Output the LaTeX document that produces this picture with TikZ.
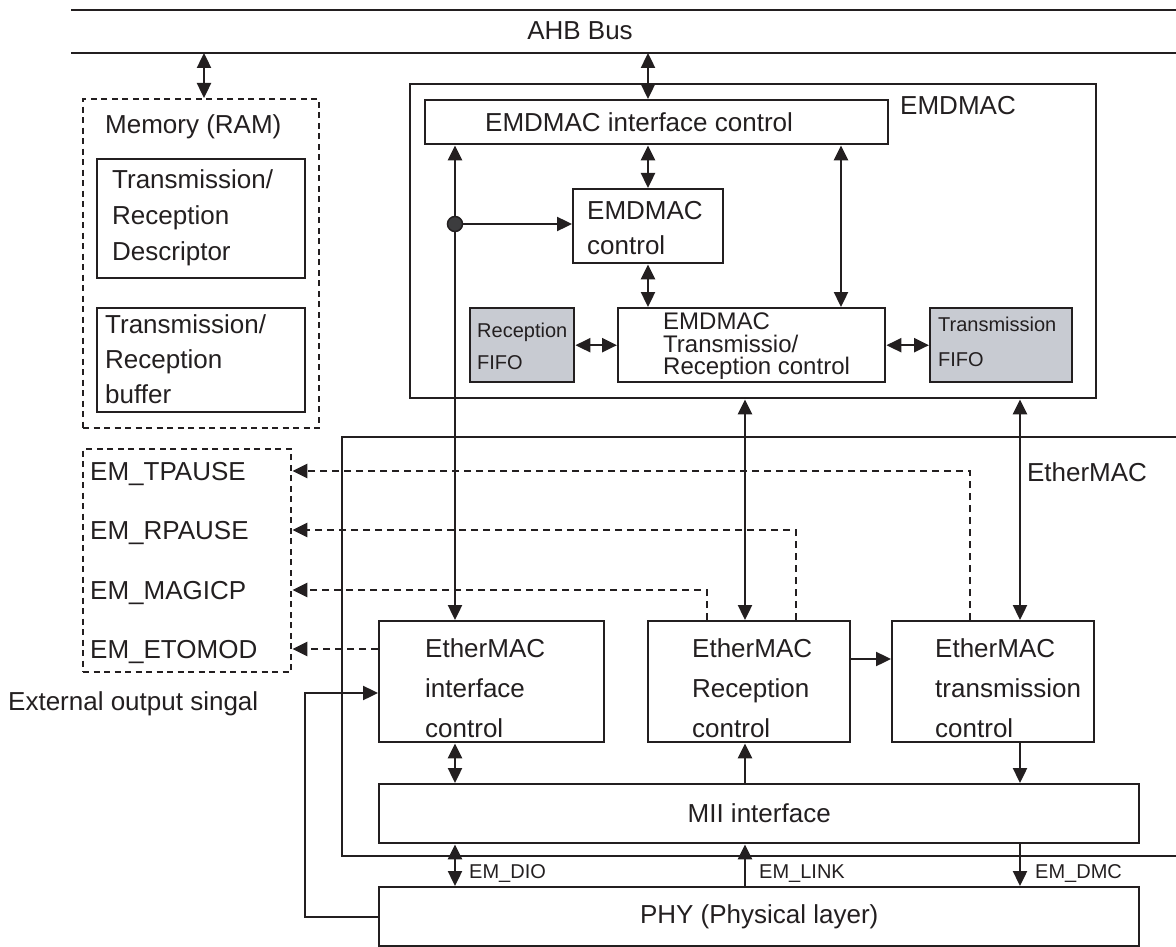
\documentclass[tikz,border=0pt]{standalone}
\usepackage{fontspec}
\setmainfont{Liberation Sans}
\usetikzlibrary{arrows.meta,calc}
\definecolor{ink}{RGB}{35,31,32}
\definecolor{fifogray}{RGB}{200,203,210}
\definecolor{dotgray}{RGB}{60,60,62}
\newcommand\fsBig[1]{\fontsize{26}{#1}\selectfont}
\newcommand\fsMid[1]{\fontsize{24}{#1}\selectfont}
\newcommand\fsSmall[1]{\fontsize{20}{#1}\selectfont}
\begin{document}
\begin{tikzpicture}[x=1pt,y=-1pt,
  every node/.style={text=ink},
  wire/.style={draw=ink, line width=2.4pt},
  dwire/.style={wire, dash pattern=on 7pt off 5pt},
  arr/.style={wire, -{Triangle[length=15pt,width=14pt]}},
  darr/.style={wire, {Triangle[length=15pt,width=14pt]}-{Triangle[length=15pt,width=14pt]}},
  box/.style={draw=ink, line width=2.4pt, rectangle, inner sep=0pt, anchor=north west},
  dbox/.style={box, dash pattern=on 6pt off 4.5pt},
  inlab/.style={anchor=west, align=left, inner sep=0pt, text=ink},
  plain/.style={inner sep=0pt, font={\fsBig{31}}},
  sigtxt/.style={anchor=west, inner sep=0pt, font={\fsBig{31}}, text height=18.6pt, text depth=0pt},
  smalllab/.style={anchor=west, inner sep=0pt, font={\fsSmall{24}}, text height=14.3pt, text depth=0pt}]
\useasboundingbox (0,0) rectangle (1176,947);

% column / row helpers
\coordinate (xA) at (455,0);
\coordinate (xB) at (648,0);
\coordinate (xC) at (745,0);
\coordinate (xD) at (841,0);
\coordinate (xE) at (1020,0);
\coordinate (xM) at (204,0);
\coordinate (dA) at (707,0);
\coordinate (dB) at (796,0);
\coordinate (dC) at (970,0);
\coordinate (xL) at (305,0);
\coordinate (yR) at (0,659);
\coordinate (yL) at (0,693);
\coordinate (jn) at (455,224);

% AHB bus
\coordinate (ahbTL) at (71,10);
\coordinate (ahbTR) at (1176,10);
\coordinate (ahbBL) at (71,53);
\coordinate (ahbBR) at (1176,53);
\draw[wire] (ahbTL) -- (ahbTR);
\draw[wire] (ahbBL) -- (ahbBR);
\node[plain] (ahb) at (580,31) {AHB Bus};

% Memory
\node[dbox, minimum width=236, minimum height=329] (mem) at (82,98) {};
\node[plain, anchor=west] (memlbl) at (105,127) {Memory (RAM)};
\node[box, minimum width=208, minimum height=119,
  label={[inlab, xshift=16pt, yshift=1pt, font={\fsBig{36}}]west:Transmission/\\Reception\\Descriptor}] (desc) at (96,158) {};
\node[box, minimum width=208, minimum height=104,
  label={[inlab, xshift=9pt, yshift=0.5pt, font={\fsBig{35}}]west:Transmission/\\Reception\\buffer}] (buf) at (96,307) {};

% EMDMAC
\node[box, minimum width=686, minimum height=314] (emd) at (409,83) {};
\node[plain] (emdlbl) at (958,106) {EMDMAC};
\node[box, minimum width=463, minimum height=44,
  label={[inlab, xshift=61pt, font={\fsBig{31}}]west:EMDMAC interface control}] (ifc) at (424,99) {};
\node[box, minimum width=150, minimum height=74,
  label={[inlab, xshift=15pt, yshift=-2pt, font={\fsBig{35}}]west:EMDMAC\\control}] (ctl) at (572,188) {};
\node[box, fill=fifogray, minimum width=104, minimum height=74,
  label={[inlab, xshift=8pt, yshift=-1pt, font={\fsSmall{32}}]west:Reception\\FIFO}] (rf) at (469,307) {};
\node[box, minimum width=267, minimum height=74,
  label={[inlab, xshift=46pt, yshift=-1pt, font={\fsMid{22.5}}]west:EMDMAC\\Transmissio/\\Reception control}] (trc) at (617,307) {};
\node[box, fill=fifogray, minimum width=142, minimum height=74,
  label={[inlab, xshift=9pt, yshift=3.5pt, font={\fsSmall{35}}]west:Transmission\\FIFO}] (tf) at (929,307) {};

% EtherMAC outline (continues past the right edge)
\draw[wire] (1176,437) -- (342,437) -- (342,856) -- (1176,856);
\node[plain] (ethlbl) at (1087,472) {EtherMAC};

% External signals
\node[dbox, minimum width=208, minimum height=223] (sig) at (82,448) {};
\node[sigtxt] (tp) at (90,471) {EM\_TPAUSE};
\node[sigtxt] (rp) at (90,530) {EM\_RPAUSE};
\node[sigtxt] (mp) at (90,590) {EM\_MAGICP};
\node[sigtxt] (et) at (90,649) {EM\_ETOMOD};
\node[sigtxt] (ext) at (8,701) {External output singal};

% EtherMAC blocks
\node[box, minimum width=225, minimum height=121,
  label={[inlab, xshift=47pt, yshift=-7pt, font={\fsBig{40}}]west:EtherMAC\\interface\\control}] (eic) at (378,620) {};
\node[box, minimum width=202, minimum height=121,
  label={[inlab, xshift=45pt, yshift=-7pt, font={\fsBig{40}}]west:EtherMAC\\Reception\\control}] (erc) at (647,620) {};
\node[box, minimum width=202, minimum height=121,
  label={[inlab, xshift=44pt, yshift=-7pt, font={\fsBig{40}}]west:EtherMAC\\transmission\\control}] (etc) at (891,620) {};
\node[box, minimum width=760, minimum height=59, font={\fsBig{31}}] (mii) at (378,783) {MII interface};
\node[box, minimum width=760, minimum height=59, font={\fsBig{31}}] (phy) at (378,886) {PHY (Physical layer)};

% connectors
\draw[darr] (ahbBL -| xM) -- (mem.north -| xM);
\draw[darr] (ahbBL -| xB) -- (ifc.north -| xB);
\draw[darr] (ifc.south -| xA) -- (eic.north -| xA);
\draw[arr] (jn) -- (ctl.west |- jn);
\draw[darr] (ifc.south -| xB) -- (ctl.north -| xB);
\draw[darr] (ctl.south -| xB) -- (trc.north -| xB);
\draw[darr] (ifc.south -| xD) -- (trc.north -| xD);
\draw[darr] (rf.east) -- (rf.east -| trc.west);
\draw[darr] (trc.east) -- (trc.east -| tf.west);
\draw[darr] (emd.south -| xC) -- (erc.north -| xC);
\draw[darr] (emd.south -| xE) -- (etc.north -| xE);
\draw[arr] (erc.east |- yR) -- (etc.west |- yR);
\draw[darr] (eic.south -| xA) -- (mii.north -| xA);
\draw[arr] (mii.north -| xC) -- (erc.south -| xC);
\draw[arr] (etc.south -| xE) -- (mii.north -| xE);
\draw[darr] (mii.south -| xA) -- (phy.north -| xA);
\draw[arr] (phy.north -| xC) -- (mii.south -| xC);
\draw[arr] (mii.south -| xE) -- (phy.north -| xE);
\draw[arr] (phy.west) -- (phy.west -| xL) -- (xL |- yL) -- (eic.west |- yL);

\node[smalllab] (ldio) at (469,871) {EM\_DIO};
\node[smalllab] (llink) at (759,871) {EM\_LINK};
\node[smalllab] (ldmc) at (1035,871) {EM\_DMC};

% dashed status signals
\draw[dwire, -{Triangle[length=15pt,width=14pt]}] (etc.north -| dC) -- (dC |- tp) -- (sig.east |- tp);
\draw[dwire, -{Triangle[length=15pt,width=14pt]}] (erc.north -| dB) -- (dB |- rp) -- (sig.east |- rp);
\draw[dwire, -{Triangle[length=15pt,width=14pt]}] (erc.north -| dA) -- (dA |- mp) -- (sig.east |- mp);
\draw[dwire, -{Triangle[length=15pt,width=14pt]}] (eic.west |- et) -- (sig.east |- et);

% junction dot
\node[circle, draw=ink, fill=dotgray, line width=1.5pt, minimum size=15pt, inner sep=0pt] (dot) at (jn) {};
\end{tikzpicture}
\end{document}
